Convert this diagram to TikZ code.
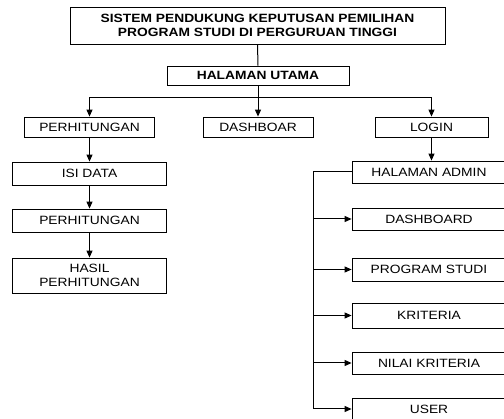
\documentclass[tikz,border=0pt]{standalone}
\usepackage{fontspec}
\setmainfont[FakeStretch=1.15]{Liberation Sans}
\usetikzlibrary{positioning,arrows.meta}

\begin{document}
\begin{tikzpicture}[
  x=1pt, y=-1pt,
  font=\fontsize{12}{14}\selectfont,
  box/.style={draw, line width=0.8pt, align=center, inner sep=0pt, minimum height=23pt},
  ttl/.style={box, font=\fontsize{12}{14}\selectfont\bfseries},
  flow/.style={-{Triangle[length=7pt,width=6pt]}, line width=1pt},
  link/.style={line width=1pt},
]
\useasboundingbox (0,0) rectangle (504,419);
\clip (0,0) rectangle (504,419);

% ---------- top ----------
\node[ttl, minimum width=375pt, minimum height=37pt] (SP) at (257.5,25.5)
  {SISTEM PENDUKUNG KEPUTUSAN PEMILIHAN\\PROGRAM STUDI DI PERGURUAN TINGGI};
\node[ttl, minimum width=182pt, minimum height=19pt] (HU) at (258,75.5) {HALAMAN UTAMA};

% ---------- menu row ----------
\node[box, minimum width=130pt, minimum height=20pt] (PH) at (89.5,127) {PERHITUNGAN};
\node[box, minimum width=110pt, minimum height=20pt] (DB) at (258,127)  {DASHBOAR};
\node[box, minimum width=113pt, minimum height=20pt] (LG) at (431.5,127) {LOGIN};

% ---------- left column ----------
\node[box, minimum width=154pt] (ID) at (89.5,173.5) {ISI DATA};
\node[box, minimum width=154pt] (PR) at (89.5,220.5) {PERHITUNGAN};
\node[box, minimum width=154pt, minimum height=35pt] (HP) at (89.5,275.5) {HASIL\\PERHITUNGAN};

% ---------- admin column ----------
\node[box, minimum width=154pt, minimum height=22pt] (AD) at (429,172)   {HALAMAN ADMIN};
\node[box, minimum width=154pt, minimum height=22pt] (AB) at (429,219)   {DASHBOARD};
\node[box, minimum width=154pt, minimum height=23pt] (PS) at (429,269.5) {PROGRAM STUDI};
\node[box, minimum width=154pt, minimum height=25pt] (KR) at (429,315.5) {KRITERIA};
\node[box, minimum width=154pt, minimum height=22pt] (NK) at (429,363)   {NILAI KRITERIA};
\node[box, minimum width=154pt, minimum height=22pt] (US) at (429,409)   {USER};

% ---------- edges ----------
\coordinate (J) at (258,98);
\coordinate (R) at (313,172);
\draw[link] (SP.south) -- (HU.north);
\draw[link] (HU.south) -- (J);
\draw[flow] (J) -| (PH.north);
\draw[flow] (J) -- (DB.north);
\draw[flow] (J) -| (LG.north);

% left chain
\draw[flow] (PH.south) -- (ID.north);
\draw[flow] (ID.south) -- (PR.north);
\draw[flow] (PR.south) -- (HP.north);

% login -> admin menu
\draw[flow] (LG.south) -- (LG.south|-AD.north);
\draw[link] (AD.west) -- (R) -- (R|-US.west);
\foreach \n in {AB,PS,KR,NK,US}
  \draw[flow] (R|-\n.west) -- (\n.west);

\end{tikzpicture}
\end{document}
